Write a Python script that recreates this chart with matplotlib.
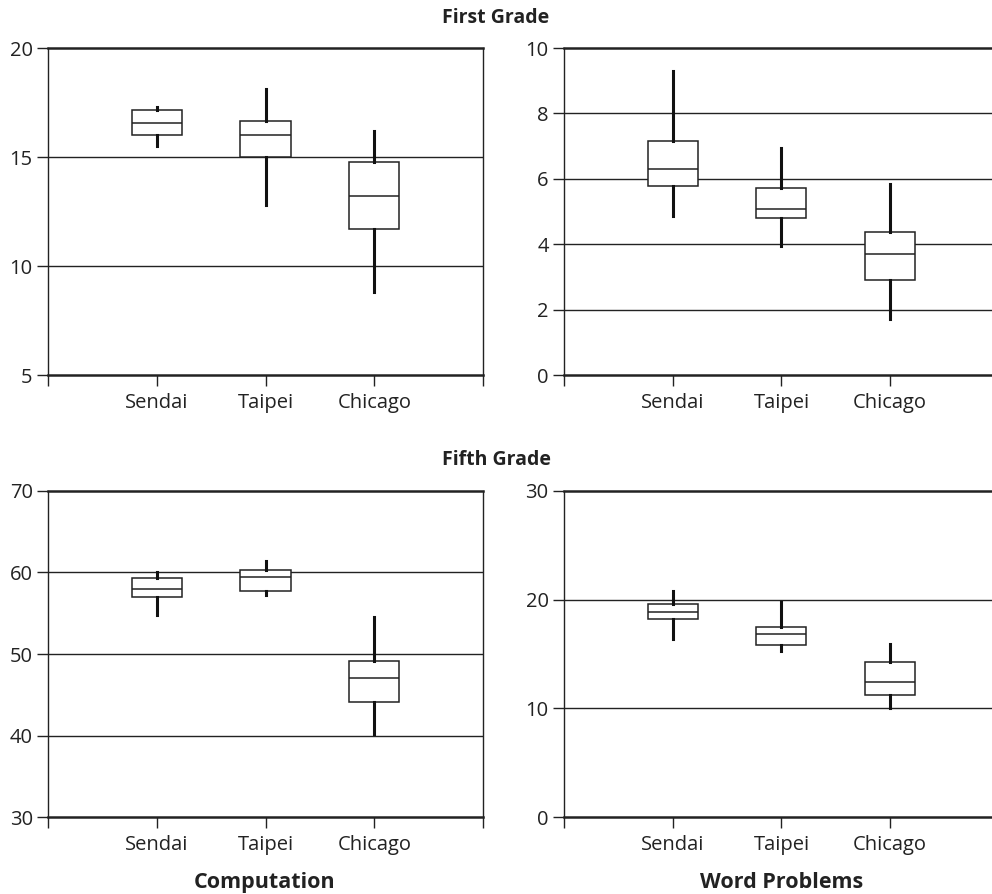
import matplotlib
matplotlib.use("Agg")
import matplotlib.pyplot as plt

cities = ["Sendai", "Taipei", "Chicago"]

# whisker low, Q1, median, Q3, whisker high  (per city)
first_comp_low = [15.5, 12.8, 8.8]
first_comp_q1 = [16.0, 15.0, 11.7]
first_comp_med = [16.55, 16.0, 13.2]
first_comp_q3 = [17.15, 16.65, 14.75]
first_comp_high = [17.3, 18.1, 16.2]

first_word_low = [4.85, 3.95, 1.7]
first_word_q1 = [5.78, 4.81, 2.92]
first_word_med = [6.3, 5.08, 3.7]
first_word_q3 = [7.16, 5.71, 4.38]
first_word_high = [9.3, 6.95, 5.83]

fifth_comp_low = [54.8, 57.2, 40.2]
fifth_comp_q1 = [57.0, 57.75, 44.1]
fifth_comp_med = [57.95, 59.4, 47.1]
fifth_comp_q3 = [59.3, 60.35, 49.2]
fifth_comp_high = [60.1, 61.45, 54.6]

fifth_word_low = [16.4, 15.3, 10.0]
fifth_word_q1 = [18.2, 15.87, 11.27]
fifth_word_med = [18.9, 16.82, 12.38]
fifth_word_q3 = [19.6, 17.53, 14.25]
fifth_word_high = [20.8, 19.8, 15.9]

panels = [
    # (low, q1, med, q3, high, ylim, yticks, rect)
    (first_comp_low, first_comp_q1, first_comp_med, first_comp_q3, first_comp_high,
     (5, 20), [5, 10, 15, 20], [0.0484, 0.5805, 0.4385, 0.3658]),
    (first_word_low, first_word_q1, first_word_med, first_word_q3, first_word_high,
     (0, 10), [0, 2, 4, 6, 8, 10], [0.5685, 0.5805, 0.4385, 0.3658]),
    (fifth_comp_low, fifth_comp_q1, fifth_comp_med, fifth_comp_q3, fifth_comp_high,
     (30, 70), [30, 40, 50, 60, 70], [0.0484, 0.0861, 0.4385, 0.3647]),
    (fifth_word_low, fifth_word_q1, fifth_word_med, fifth_word_q3, fifth_word_high,
     (0, 30), [0, 10, 20, 30], [0.5685, 0.0861, 0.4385, 0.3647]),
]

plt.rcParams["font.family"] = ["Open Sans", "DejaVu Sans"]

fig = plt.figure(figsize=(9.92, 8.94), dpi=100)

for low, q1, med, q3, high, ylim, yticks, rect in panels:
    ax = fig.add_axes(rect)
    stats = []
    for i, c in enumerate(cities):
        stats.append({"label": c, "whislo": low[i], "q1": q1[i], "med": med[i],
                      "q3": q3[i], "whishi": high[i], "fliers": []})
    ax.bxp(stats, positions=[1, 2, 3], widths=0.46, showcaps=False,
           showfliers=False, patch_artist=True,
           boxprops=dict(facecolor="white", edgecolor="#222222", linewidth=1.1),
           medianprops=dict(color="#222222", linewidth=1.1),
           whiskerprops=dict(color="#111111", linewidth=2.2),
           zorder=3)
    ax.set_xlim(0, 4)
    ax.set_ylim(*ylim)
    ax.set_yticks(yticks)
    ax.set_xticks([0, 1, 2, 3, 4])
    ax.set_xticklabels(["", "Sendai", "Taipei", "Chicago", ""])
    ax.tick_params(axis="both", direction="out", length=8, width=1.0,
                   labelsize=14.5, color="#222222", labelcolor="#222222")
    ax.tick_params(axis="x", pad=5)
    ax.tick_params(axis="y", pad=3)
    for y in yticks[1:-1]:
        ax.axhline(y, color="#222222", linewidth=1.0, zorder=1)
    ax.spines["top"].set_linewidth(1.8)
    ax.spines["bottom"].set_linewidth(1.8)
    ax.spines["left"].set_linewidth(1.0)
    ax.spines["right"].set_linewidth(1.0)
    for s in ax.spines.values():
        s.set_color("#222222")

fig.text(0.5, 0.980, "First Grade", ha="center", va="center",
         fontsize=14, fontweight="bold", color="#222222")
fig.text(0.5, 0.485, "Fifth Grade", ha="center", va="center",
         fontsize=14, fontweight="bold", color="#222222")
fig.text(0.267, 0.013, "Computation", ha="center", va="center",
         fontsize=15.5, fontweight="bold", color="#222222")
fig.text(0.788, 0.013, "Word Problems", ha="center", va="center",
         fontsize=15.5, fontweight="bold", color="#222222")

fig.savefig("out.png", dpi=100)
